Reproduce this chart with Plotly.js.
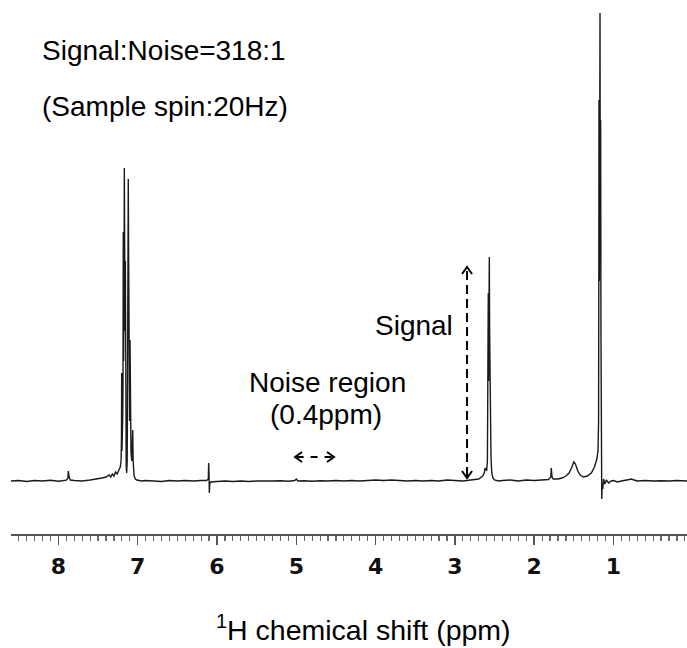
<!DOCTYPE html>
<html>
<head>
<meta charset="utf-8">
<script src="https://cdn.plot.ly/plotly-3.0.1.min.js"></script>
<style>html,body{margin:0;padding:0;background:#fff;}#chart{width:687px;height:648px;}</style>
</head>
<body>
<div id="chart"></div>
<script>
// Chemical shift (ppm) and intensity (arbitrary units)
const shiftPpm = [
  8.60, 8.50, 8.40, 8.30, 8.20, 8.10, 8.00, 7.95, 7.90, 7.88, 7.875, 7.865, 7.85, 7.80, 7.70, 7.60,
  7.50, 7.45, 7.40, 7.36, 7.34, 7.32, 7.30, 7.28, 7.26, 7.24, 7.22, 7.21, 7.205, 7.202, 7.199, 7.19,
  7.186, 7.182, 7.178, 7.175, 7.172, 7.169, 7.165, 7.162, 7.160, 7.156, 7.152, 7.145, 7.139, 7.133,
  7.130, 7.127, 7.124, 7.122, 7.119, 7.115, 7.112, 7.108, 7.105, 7.102, 7.097, 7.092, 7.085, 7.075,
  7.068, 7.063, 7.058, 7.045, 7.03, 7.013, 6.95, 6.90,
  6.80, 6.70, 6.60, 6.50, 6.40, 6.30, 6.20, 6.13, 6.11, 6.105, 6.100, 6.097, 6.092, 6.08, 6.05, 6.00,
  5.90, 5.80, 5.70, 5.60, 5.50, 5.40, 5.30, 5.20, 5.10, 5.02, 5.00, 4.98, 4.90, 4.80, 4.70, 4.60,
  4.50, 4.40, 4.30, 4.20, 4.10, 4.00, 3.90, 3.80, 3.70, 3.60, 3.50, 3.40, 3.30, 3.20, 3.10, 3.00,
  2.90, 2.80, 2.70, 2.65, 2.63, 2.62, 2.60, 2.59, 2.587, 2.583, 2.579, 2.575, 2.572, 2.570, 2.566, 2.562,
  2.559, 2.557, 2.552, 2.545, 2.535, 2.52, 2.50, 2.45, 2.40, 2.30, 2.20, 2.10, 2.00, 1.90, 1.82, 1.79,
  1.785, 1.775, 1.76, 1.70, 1.65, 1.60, 1.56, 1.53, 1.50, 1.48, 1.45, 1.42, 1.38, 1.33, 1.28, 1.24,
  1.21, 1.195, 1.188, 1.185, 1.183, 1.180, 1.178, 1.174, 1.172, 1.170, 1.168, 1.166, 1.162, 1.160, 1.158, 1.152,
  1.148, 1.143, 1.135, 1.125, 1.11, 1.09, 1.06, 1.03,
  1.00, 0.95, 0.90, 0.85, 0.80, 0.78, 0.75, 0.70, 0.60, 0.50, 0.40, 0.30, 0.20, 0.10, 0.07
];
const intensity = [
  0, 0.5, -0.5, 0.5, 0, 0.8, -0.3, 0.5, 0.8, 3, 10, 4, 1, 0.5, 0, 1,
  2, 3, 4, 6, 4, 7, 5, 9, 7, 10, 14, 20, 40, 108, 30, 60,
  90, 249, 120, 230, 200, 313, 270, 180, 150, 220, 40, 15, 8, 20,
  60, 120, 230, 290, 302, 230, 150, 100, 140, 60, 141, 70, 30, 20,
  40, 51, 20, 5, 2, 1, 0, 0.5,
  0, -0.5, 0.5, 0, 0.5, 0, 0.5, 0.5, 2, 18, 5, -12, -3, -1, -1, -0.5,
  0, -0.5, 0, -0.5, 0, -0.3, 0, 0.3, -0.3, 0.5, 2, 0, 0.3, -0.3, 0.3, 0,
  0.5, 0, 0.5, 0, 0.5, 1, 0.5, 1, 0.5, 0, 0.5, 0, 0.5, 0, 1, 0.5,
  0, 1, 2, 5, 8, 13, 10, 20, 120, 80, 188, 100, 140, 160, 224, 150,
  110, 81, 40, 24, 8, 3, 1, 0, 0.5, 1, 0, 1, 0.5, 1, 1.5, 4,
  13, 4, 2, 2, 3, 5, 8, 13, 19, 17, 10, 6, 4, 5, 8, 14,
  22, 30, 60, 200, 381, 250, 200, 330, 380, 468, 350, 300, 361, 260, 150, 30,
  -18, -5, -8, 2, -3, 1, -2, 0,
  0.5, -1, 0, 0.5, 1.5, 2, 1, 0, 0.5, 0, 0.3, 0, 0.5, 0, 0
];
const tickValues = [1, 2, 3, 4, 5, 6, 7, 8];
const tickLabels = ['1', '2', '3', '4', '5', '6', '7', '8'];
const signalArrow = {ppm: 2.847, from: 3, to: 214};
const noiseArrow = {from: 5.016, to: 4.525, level: 24};

const textFont = {family: 'Liberation Sans, Arial, sans-serif', size: 28, color: '#000'};

const trace = {
  x: shiftPpm, y: intensity, type: 'scatter', mode: 'lines',
  line: {color: '#1a1a1a', width: 1.4}, hoverinfo: 'skip', showlegend: false
};

// open chevron arrowhead drawn in pixel units around an anchor point
function chevron(x, y, dir) {
  const paths = {
    up: 'M-5,-7 L0,0 L5,-7',
    down: 'M-5,7 L0,0 L5,7',
    left: 'M7,-5 L0,0 L7,5',
    right: 'M-7,-5 L0,0 L-7,5'
  };
  return {type: 'path', xref: 'x', yref: 'y', xsizemode: 'pixel', ysizemode: 'pixel',
    xanchor: x, yanchor: y, path: paths[dir], line: {color: '#000', width: 2}};
}

const layout = {
  width: 687, height: 648,
  margin: {l: 11, r: 0, t: 0, b: 114, pad: 0},
  paper_bgcolor: '#fff', plot_bgcolor: '#fff',
  showlegend: false,
  xaxis: {
    range: [8.598, 0.073], showgrid: false, zeroline: false,
    showline: true, linecolor: '#555', linewidth: 1.5,
    ticks: 'outside', ticklen: 9, tickwidth: 1.5, tickcolor: '#555',
    tickmode: 'array', tickvals: tickValues, ticktext: tickLabels,
    tickfont: {family: 'DejaVu Sans, Verdana, sans-serif', size: 22, color: '#111', weight: 'bold'},
    ticklabelstandoff: 3,
    minor: {dtick: 0.1, tick0: 0, ticks: 'outside', ticklen: 5, tickwidth: 1.2, tickcolor: '#666', showgrid: false}
  },
  yaxis: {range: [-53, 481], visible: false, showgrid: false, zeroline: false},
  shapes: [
    {type: 'line', xref: 'x', yref: 'y', x0: signalArrow.ppm, x1: signalArrow.ppm,
     y0: signalArrow.from + 2, y1: signalArrow.to - 2, line: {color: '#000', width: 2, dash: '9px,5px'}},
    {type: 'line', xref: 'x', yref: 'y', x0: noiseArrow.from - 0.02, x1: noiseArrow.to + 0.02,
     y0: noiseArrow.level, y1: noiseArrow.level, line: {color: '#000', width: 2, dash: '7px,7px'}},
    chevron(signalArrow.ppm, signalArrow.to, 'up'),
    chevron(signalArrow.ppm, signalArrow.from, 'down'),
    chevron(noiseArrow.from, noiseArrow.level, 'left'),
    chevron(noiseArrow.to, noiseArrow.level, 'right')
  ],
  annotations: [
    {text: 'Signal:Noise=318:1', xref: 'paper', yref: 'paper', x: (40 - 11) / 676, y: (534 - 50) / 534,
     xanchor: 'left', yanchor: 'middle', showarrow: false, font: textFont},
    {text: '(Sample spin:20Hz)', xref: 'paper', yref: 'paper', x: (40 - 11) / 676, y: (534 - 106) / 534,
     xanchor: 'left', yanchor: 'middle', showarrow: false, font: textFont},
    {text: 'Signal', xref: 'paper', yref: 'paper', x: (373 - 11) / 676, y: (534 - 326) / 534,
     xanchor: 'left', yanchor: 'middle', showarrow: false, font: textFont},
    {text: 'Noise region', xref: 'paper', yref: 'paper', x: (327 - 11) / 676, y: (534 - 382) / 534,
     xanchor: 'center', yanchor: 'middle', showarrow: false, font: textFont},
    {text: '(0.4ppm)', xref: 'paper', yref: 'paper', x: (326 - 11) / 676, y: (534 - 414) / 534,
     xanchor: 'center', yanchor: 'middle', showarrow: false, font: textFont},
    {text: '<sup>1</sup>H chemical shift (ppm)', xref: 'paper', yref: 'paper', x: (364 - 11) / 676, y: (534 - 628) / 534,
     xanchor: 'center', yanchor: 'middle', showarrow: false,
     font: {family: 'Liberation Sans, Arial, sans-serif', size: 28.5, color: '#000'}}
  ]
};

Plotly.newPlot('chart', [trace], layout, {staticPlot: true, displayModeBar: false});
</script>
</body>
</html>
